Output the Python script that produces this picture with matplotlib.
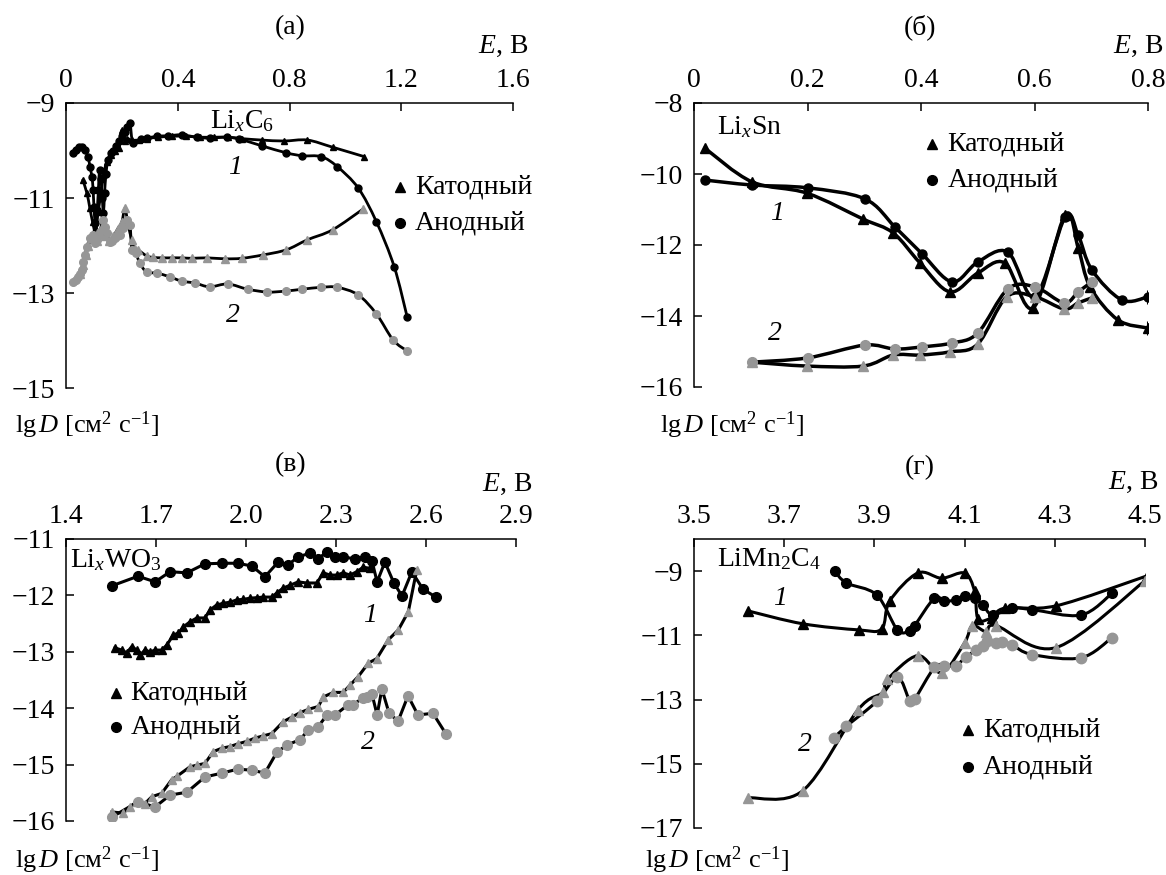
import numpy as np
import matplotlib
matplotlib.use("Agg")
import matplotlib.pyplot as plt
from matplotlib.path import Path
from matplotlib.patches import PathPatch

plt.rcParams['font.family'] = ['Liberation Serif', 'DejaVu Serif']
plt.rcParams['mathtext.fontset'] = 'custom'
plt.rcParams['mathtext.rm'] = 'Liberation Serif'
plt.rcParams['mathtext.it'] = 'Liberation Serif:italic'

MINUS = '\u2212'
GRAY = '#969696'
FS = 20

# ---------- (а) LixC6 ----------
a_cath1_E = [0.06, 0.075, 0.085, 0.095, 0.105, 0.115, 0.125, 0.135, 0.145, 0.16, 0.175, 0.19, 0.2,
             0.21, 0.22, 0.235, 0.26, 0.29, 0.33, 0.38, 0.43, 0.48, 0.53, 0.58, 0.63, 0.7, 0.78,
             0.864, 0.954, 1.068]
a_cath1_D = [-10.62, -10.9, -11.2, -11.5, -11.7, -11.3, -10.9, -10.5, -10.25, -10.1, -10.0, -9.95,
             -9.57, -9.8, -9.75, -9.78, -9.78, -9.75, -9.72, -9.7, -9.7, -9.72, -9.72, -9.72, -9.75,
             -9.78, -9.8, -9.78, -9.93, -10.13]
a_anod1_E = [0.025, 0.035, 0.045, 0.057, 0.068, 0.079, 0.086, 0.093, 0.097, 0.1, 0.104, 0.108, 0.112,
             0.116, 0.12, 0.125, 0.13, 0.134, 0.138, 0.143, 0.15, 0.16, 0.17, 0.18, 0.19, 0.2, 0.21,
             0.22, 0.229, 0.24, 0.27, 0.29, 0.325, 0.364, 0.414, 0.468, 0.514, 0.575, 0.621, 0.7,
             0.789, 0.846, 0.914, 0.971, 1.046, 1.111, 1.175, 1.221]
a_anod1_D = [-10.05, -9.98, -9.93, -9.93, -9.99, -10.14, -10.35, -10.56, -10.83, -11.19, -11.53,
             -11.72, -11.25, -10.83, -10.41, -10.6, -11.0, -11.32, -10.9, -10.5, -10.2, -10.05, -10.0,
             -9.9, -9.8, -9.7, -9.6, -9.5, -9.42, -9.84, -9.76, -9.74, -9.7, -9.69, -9.67, -9.72,
             -9.74, -9.72, -9.76, -9.9, -10.05, -10.11, -10.13, -10.34, -10.79, -11.5, -12.45, -13.5]
a_cath2_E = [0.05, 0.06, 0.07, 0.08, 0.09, 0.1, 0.11, 0.12, 0.13, 0.14, 0.155, 0.17, 0.185, 0.2,
             0.211, 0.222, 0.235, 0.246, 0.257, 0.289, 0.311, 0.343, 0.379, 0.414, 0.45, 0.504,
             0.568, 0.629, 0.704, 0.789, 0.864, 0.954, 1.064]
a_cath2_D = [-12.6, -12.4, -12.2, -12.0, -11.85, -11.8, -11.9, -11.75, -11.6, -11.8, -11.9, -11.8,
             -11.65, -11.5, -11.22, -11.55, -11.88, -12.07, -12.09, -12.22, -12.25, -12.26, -12.26,
             -12.26, -12.27, -12.26, -12.28, -12.27, -12.2, -12.09, -11.88, -11.67, -11.23]
a_anod2_E = [0.025, 0.035, 0.044, 0.051, 0.057, 0.061, 0.068, 0.075, 0.086, 0.096, 0.104, 0.111,
             0.121, 0.132, 0.139, 0.146, 0.157, 0.166, 0.175, 0.184, 0.193, 0.204, 0.218, 0.229,
             0.236, 0.25, 0.264, 0.289, 0.325, 0.371, 0.414, 0.461, 0.514, 0.579, 0.65, 0.721,
             0.786, 0.846, 0.914, 0.971, 1.046, 1.111, 1.171, 1.221]
a_anod2_D = [-12.77, -12.72, -12.66, -12.6, -12.52, -12.35, -12.2, -12.03, -11.84, -11.78, -11.95,
             -11.88, -11.72, -11.46, -11.6, -11.74, -11.93, -11.9, -11.84, -11.8, -11.78, -11.63,
             -11.46, -11.57, -12.09, -12.16, -12.37, -12.56, -12.58, -12.66, -12.75, -12.79, -12.87,
             -12.81, -12.92, -12.98, -12.96, -12.92, -12.88, -12.88, -13.04, -13.44, -13.99, -14.22]

# ---------- (б) LixSn ----------
b_cath1_E = [0.019, 0.102, 0.199, 0.298, 0.351, 0.398, 0.451, 0.5, 0.548, 0.598, 0.654, 0.677,
             0.698, 0.747, 0.8]
b_cath1_D = [-9.27, -10.22, -10.54, -11.27, -11.66, -12.5, -13.32, -12.79, -12.51, -13.77, -11.15,
             -12.08, -13.18, -14.11, -14.34]
b_anod1_E = [0.019, 0.102, 0.2, 0.301, 0.354, 0.402, 0.455, 0.5, 0.553, 0.601, 0.654, 0.677,
             0.701, 0.754, 0.8]
b_anod1_D = [-10.17, -10.31, -10.39, -10.7, -11.49, -12.25, -13.04, -12.48, -12.2, -13.46, -11.21,
             -11.72, -12.7, -13.55, -13.46]
b_cath2_E = [0.102, 0.199, 0.298, 0.351, 0.398, 0.451, 0.5, 0.551, 0.601, 0.652, 0.677, 0.701]
b_cath2_D = [-15.3, -15.41, -15.41, -15.1, -15.1, -15.01, -14.79, -13.46, -13.46, -13.8, -13.63,
             -13.49]
b_anod2_E = [0.102, 0.2, 0.301, 0.354, 0.402, 0.455, 0.5, 0.553, 0.601, 0.652, 0.677, 0.701]
b_anod2_D = [-15.3, -15.18, -14.82, -14.93, -14.87, -14.76, -14.48, -13.24, -13.18, -13.63, -13.32,
             -13.04]
b_end_err = 0.2

# ---------- (в) LixWO3 ----------
c_cath1_E = [1.563, 1.586, 1.602, 1.619, 1.636, 1.647, 1.663, 1.68, 1.697, 1.719, 1.736, 1.758,
             1.774, 1.791, 1.813, 1.836, 1.863, 1.88, 1.902, 1.924, 1.947, 1.969, 1.991, 2.013,
             2.036, 2.058, 2.086, 2.102, 2.124, 2.147, 2.174, 2.202, 2.236, 2.258, 2.28, 2.302,
             2.324, 2.347, 2.369, 2.391, 2.413]
c_cath1_D = [-12.93, -12.97, -13.02, -12.91, -12.97, -13.06, -12.97, -13.0, -12.97, -12.97, -12.88,
             -12.7, -12.67, -12.56, -12.47, -12.4, -12.4, -12.26, -12.17, -12.14, -12.12, -12.08,
             -12.07, -12.05, -12.04, -12.03, -12.03, -11.96, -11.87, -11.82, -11.76, -11.78, -11.78,
             -11.6, -11.64, -11.64, -11.6, -11.64, -11.58, -11.5, -11.52]
c_anod1_E = [1.553, 1.64, 1.697, 1.747, 1.803, 1.863, 1.92, 1.973, 2.02, 2.063, 2.107, 2.14, 2.173,
             2.213, 2.24, 2.27, 2.297, 2.323, 2.363, 2.397, 2.42, 2.437, 2.463, 2.493, 2.52, 2.553,
             2.59, 2.633]
c_anod1_D = [-11.83, -11.66, -11.76, -11.58, -11.6, -11.44, -11.43, -11.43, -11.48, -11.67, -11.41,
             -11.46, -11.32, -11.25, -11.35, -11.23, -11.32, -11.32, -11.35, -11.32, -11.39, -11.76,
             -11.41, -11.78, -12.01, -11.58, -11.89, -12.03]
c_cath2_E = [1.553, 1.591, 1.613, 1.636, 1.663, 1.686, 1.719, 1.752, 1.769, 1.813, 1.836, 1.863,
             1.891, 1.919, 1.947, 1.974, 2.002, 2.03, 2.058, 2.086, 2.124, 2.152, 2.18, 2.208,
             2.241, 2.258, 2.291, 2.324, 2.347, 2.374, 2.408, 2.436, 2.474, 2.508, 2.541, 2.569]
c_cath2_D = [-15.84, -15.86, -15.75, -15.66, -15.69, -15.57, -15.51, -15.27, -15.21, -15.04, -15.01,
             -14.98, -14.77, -14.71, -14.68, -14.63, -14.59, -14.53, -14.49, -14.45, -14.24, -14.16,
             -14.08, -14.02, -13.97, -13.8, -13.72, -13.72, -13.59, -13.44, -13.2, -13.12, -12.79,
             -12.61, -12.29, -11.55]
c_anod2_E = [1.553, 1.64, 1.697, 1.747, 1.803, 1.863, 1.92, 1.973, 2.02, 2.063, 2.103, 2.137, 2.18,
             2.207, 2.24, 2.27, 2.297, 2.34, 2.355, 2.39, 2.405, 2.42, 2.437, 2.453, 2.477, 2.507,
             2.54, 2.573, 2.623, 2.667]
c_anod2_D = [-15.93, -15.66, -15.75, -15.54, -15.49, -15.22, -15.15, -15.08, -15.1, -15.15, -14.78,
             -14.65, -14.56, -14.39, -14.33, -14.12, -14.12, -13.94, -13.94, -13.82, -13.8, -13.75,
             -14.12, -13.66, -14.09, -14.23, -13.78, -14.12, -14.09, -14.46]

# ---------- (г) LiMn2O4 ----------
d_cath1_E = [3.62, 3.741, 3.865, 3.916, 3.934, 3.996, 4.049, 4.1, 4.122, 4.13, 4.16, 4.19, 4.303,
             4.504]
d_cath1_D = [-10.24, -10.64, -10.83, -10.8, -9.93, -9.06, -9.22, -9.06, -9.62, -10.5, -10.45,
             -10.15, -10.08, -9.15]
d_anod1_E = [3.812, 3.838, 3.905, 3.951, 3.978, 3.989, 4.033, 4.055, 4.082, 4.1, 4.122, 4.14, 4.162,
             4.206, 4.25, 4.358, 4.427]
d_anod1_D = [-9.0, -9.37, -9.74, -10.83, -10.86, -10.7, -9.84, -9.93, -9.9, -9.77, -9.84, -10.05,
             -10.36, -10.15, -10.2, -10.37, -9.69]
d_cath2_E = [3.62, 3.741, 3.863, 3.918, 3.929, 3.996, 4.049, 4.1, 4.117, 4.148, 4.17, 4.303, 4.5]
d_cath2_D = [-16.06, -15.84, -13.33, -12.78, -12.37, -11.63, -12.16, -11.23, -10.7, -10.89, -10.7,
             -11.38, -9.3]
d_anod2_E = [3.81, 3.838, 3.905, 3.951, 3.978, 3.989, 4.033, 4.055, 4.08, 4.102, 4.126, 4.14, 4.15,
             4.17, 4.184, 4.204, 4.25, 4.358, 4.427]
d_anod2_D = [-14.2, -13.83, -13.06, -12.31, -13.03, -12.99, -12.0, -11.94, -11.94, -11.69, -11.45,
             -11.32, -11.17, -11.23, -11.2, -11.29, -11.6, -11.7, -11.07]


def smooth(ax, x, y, lw):
    ''' сглаженная линия через точки (Catmull-Rom -> кубические Безье) '''
    p = np.column_stack([x, y]).astype(float)
    ext = np.vstack([p[0], p, p[-1]])
    verts = [p[0]]
    codes = [Path.MOVETO]
    for i in range(1, len(ext) - 2):
        c1 = ext[i] + (ext[i + 1] - ext[i - 1]) / 6
        c2 = ext[i + 1] - (ext[i + 2] - ext[i]) / 6
        verts += [c1, c2, ext[i + 1]]
        codes += [Path.CURVE4] * 3
    ax.add_patch(PathPatch(Path(verts, codes), fill=False, ec='black', lw=lw, zorder=2,
                           capstyle='round', joinstyle='round'))


def series(ax, x, y, marker, color, ms, lw, smoothed=True):
    if smoothed:
        smooth(ax, x, y, lw)
    else:
        ax.plot(x, y, '-', color='black', lw=lw, zorder=2, solid_joinstyle='round')
    ax.plot(x, y, linestyle='none', marker=marker, color=color, ms=ms, mec=color, zorder=3)


def frame(ax, xlim, ylim, xticks, xlabels, yticks):
    ax.set_xlim(*xlim)
    ax.set_ylim(*ylim)
    ax.xaxis.tick_top()
    ax.spines['right'].set_visible(False)
    ax.spines['bottom'].set_visible(False)
    for s in ('left', 'top'):
        ax.spines[s].set_linewidth(1.1)
    ax.set_xticks(xticks, xlabels)
    ax.set_yticks(yticks, [MINUS + str(abs(v)) for v in yticks])
    ax.tick_params(axis='x', direction='in', length=6, width=1.1, labelsize=FS, pad=7)
    ax.tick_params(axis='y', direction='in', length=6, width=1.1, labelsize=FS, pad=8)
    ax.patch.set_visible(False)


def keys(ax, x, y, dy=0.125):
    ''' легенда: маркер + подпись '''
    ax.plot([x], [y], '^', color='black', ms=7, transform=ax.transAxes, clip_on=False)
    ax.plot([x], [y - dy], 'o', color='black', ms=7, transform=ax.transAxes, clip_on=False)
    ax.text(x + 0.033, y, 'Катодный', fontsize=FS, va='center', transform=ax.transAxes)
    ax.text(x + 0.033, y - dy, 'Анодный', fontsize=FS, va='center', transform=ax.transAxes)


W, H = 1166, 875
fig = plt.figure(figsize=(W / 100, H / 100), dpi=100)


def axes_px(l, t, r, b):
    return fig.add_axes([l / W, 1 - b / H, (r - l) / W, (b - t) / H])


def extras(title, tx, ty, ex, ey, lx, ly):
    fig.text(tx / W, 1 - ty / H, title, fontsize=FS, ha='center', va='center')
    fig.text(ex / W, 1 - ey / H, '$E$, В', fontsize=FS, ha='right', va='center')
    fig.text(lx / W, 1 - ly / H, 'lg$\\,D$ [см$^2$ с$^{-1}$]', fontsize=19, ha='left',
             va='center')


def labels(ax, name, p1, p2, name_xy):
    ax.text(*name_xy, name, fontsize=FS, ha='left', va='center', transform=ax.transAxes)
    ax.text(*p1, '1', fontsize=FS, style='italic', ha='center', va='center', transform=ax.transAxes)
    ax.text(*p2, '2', fontsize=FS, style='italic', ha='center', va='center', transform=ax.transAxes)


# (а)
ax = axes_px(66, 103, 513, 388)
frame(ax, (0, 1.6), (-15, -9), [0, 0.4, 0.8, 1.2, 1.6], ['0', '0.4', '0.8', '1.2', '1.6'],
      [-9, -11, -13, -15])
series(ax, a_anod1_E, a_anod1_D, 'o', 'black', 5, 2.0)
series(ax, a_cath1_E, a_cath1_D, '^', 'black', 5, 2.0)
series(ax, a_cath2_E, a_cath2_D, '^', GRAY, 5.5, 2.0)
series(ax, a_anod2_E, a_anod2_D, 'o', GRAY, 5.5, 2.0)
labels(ax, 'Li$_{\\it{x}}$C$_6$', (0.378, 0.772), (0.373, 0.255), (0.322, 0.935))
keys(ax, 0.748, 0.705)
extras('(a)', 290, 28, 528, 46, 15, 425)

# (б)
ax = axes_px(694, 103, 1148, 387)
frame(ax, (0, 0.8), (-16, -8), [0, 0.2, 0.4, 0.6, 0.8], ['0', '0.2', '0.4', '0.6', '0.8'],
      [-8, -10, -12, -14, -16])
series(ax, b_cath1_E, b_cath1_D, '^', 'black', 6.5, 2.5)
series(ax, b_anod1_E, b_anod1_D, 'o', 'black', 6.5, 2.5)
series(ax, b_cath2_E, b_cath2_D, '^', GRAY, 7, 2.5)
series(ax, b_anod2_E, b_anod2_D, 'o', GRAY, 7, 2.5)
ax.errorbar([b_cath1_E[-1], b_anod1_E[-1]], [b_cath1_D[-1], b_anod1_D[-1]], yerr=b_end_err,
            fmt='none', ecolor='black', elinewidth=2.2, capsize=0, zorder=3)
labels(ax, 'Li$_{\\it{x}}$Sn', (0.183, 0.61), (0.178, 0.19), (0.05, 0.915))
keys(ax, 0.525, 0.855)
extras('(б)', 920, 27, 1163, 46, 660, 425)

# (в)
ax = axes_px(66, 539, 516, 821)
frame(ax, (1.4, 2.9), (-16, -11), [1.4, 1.7, 2.0, 2.3, 2.6, 2.9],
      ['1.4', '1.7', '2.0', '2.3', '2.6', '2.9'], [-11, -12, -13, -14, -15, -16])
series(ax, c_anod1_E, c_anod1_D, 'o', 'black', 7, 2.2, smoothed=False)
series(ax, c_cath1_E, c_cath1_D, '^', 'black', 6, 2.2, smoothed=False)
series(ax, c_cath2_E, c_cath2_D, '^', GRAY, 6, 2.2, smoothed=False)
series(ax, c_anod2_E, c_anod2_D, 'o', GRAY, 7, 2.2, smoothed=False)
labels(ax, 'Li$_{\\it{x}}$WO$_3$', (0.675, 0.73), (0.67, 0.28), (0.01, 0.925))
keys(ax, 0.11, 0.455, dy=0.12)
extras('(в)', 291, 465, 532, 484, 15, 860)

# (г)
ax = axes_px(694, 539, 1145, 828)
frame(ax, (3.5, 4.5), (-17, -8), [3.5, 3.7, 3.9, 4.1, 4.3, 4.5],
      ['3.5', '3.7', '3.9', '4.1', '4.3', '4.5'], [-9, -11, -13, -15, -17])
series(ax, d_cath1_E, d_cath1_D, '^', 'black', 6.5, 2.2)
series(ax, d_anod1_E, d_anod1_D, 'o', 'black', 7, 2.2)
series(ax, d_cath2_E, d_cath2_D, '^', GRAY, 7, 2.2)
series(ax, d_anod2_E, d_anod2_D, 'o', GRAY, 7.5, 2.2)
labels(ax, 'LiMn$_2$C$_4$', (0.19, 0.795), (0.245, 0.29), (0.05, 0.93))
keys(ax, 0.608, 0.34, dy=0.13)
extras('(г)', 920, 468, 1158, 482, 645, 860)

fig.savefig('out.png', dpi=100)
